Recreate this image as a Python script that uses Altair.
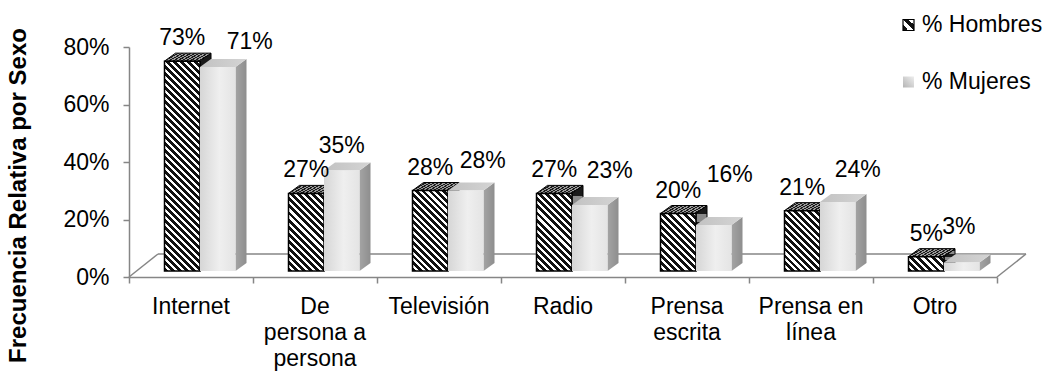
import textwrap

import altair as alt
import pandas as pd

# ---- data -------------------------------------------------------------
categories = ["Internet", "De persona a persona", "Televisión", "Radio",
              "Prensa escrita", "Prensa en línea", "Otro"]
hombres = [0.73, 0.27, 0.28, 0.27, 0.20, 0.21, 0.05]
mujeres = [0.71, 0.35, 0.28, 0.23, 0.16, 0.24, 0.03]
series = ["% Hombres", "% Mujeres"]
y_ticks = [0.0, 0.2, 0.4, 0.6, 0.8]
y_title = "Frecuencia Relativa por Sexo"

# label placement for the value labels (pixels)
hombres_label_lift = 16
mujeres_label_dx = [32, 0, 17, 20, 16, 20, -3]
mujeres_label_lift = [18, 17, 23, 27, 43, 25, 28]

# ---- layout -----------------------------------------------------------
FONT = "Liberation Sans"
FS = 23
PLOT_W, PLOT_H = 868, 230
Y_MAX = 0.8
N = len(categories)
CAT_PX = PLOT_W / N
Y_PX = PLOT_H / Y_MAX

BAR_PX = 35.5          # column width
SHIFT = (9, 6)         # column front plane, set back into the floor
DEPTH = (11, 8)        # column depth
FLOOR = (29, 23)       # floor depth
AXIS_GRAY = "#868686"


def ux(p):
    return p / CAT_PX


def uy(p):
    return p / Y_PX


xs = alt.Scale(domain=[0, N], nice=False, zero=False)
ys = alt.Scale(domain=[0, Y_MAX], nice=False, zero=True)

x_axis = alt.Axis(values=list(range(N + 1)), labels=False, title=None,
                  grid=False, tickSize=6, tickColor=AXIS_GRAY, tickWidth=1.5,
                  domainColor=AXIS_GRAY, domainWidth=1.5)
y_axis = alt.Axis(values=y_ticks, format=".0%", grid=False, tickSize=6,
                  tickColor=AXIS_GRAY, tickWidth=1.5, domainColor=AXIS_GRAY,
                  domainWidth=1.5, labelFont=FONT, labelFontSize=FS,
                  labelColor="#000", labelPadding=14, title=y_title,
                  titleFont=FONT, titleFontSize=24, titleFontWeight="bold",
                  titleColor="#000", titleAngle=270, titleX=-111, titleY=148,
                  titleAlign="center", titleBaseline="middle")


def X(field):
    return alt.X(field, type="quantitative", scale=xs, axis=x_axis)


def Y(field):
    return alt.Y(field, type="quantitative", scale=ys, axis=y_axis)


def stripes(n, c1, c2, x1, y1, x2, y2, frac=0.5):
    stops = []
    for i in range(n):
        a, b, c = i / n, (i + frac) / n, (i + 1) / n
        stops += [{"offset": round(a, 5), "color": c1},
                  {"offset": round(b, 5), "color": c1},
                  {"offset": round(b, 5), "color": c2},
                  {"offset": round(c, 5), "color": c2}]
    return {"gradient": "linear", "x1": x1, "y1": y1, "x2": x2, "y2": y2,
            "stops": stops}


def diag_hatch(w, h, pitch=7.0):
    # "\" stripes at 45 degrees inside a w x h box
    k = (w + h) / (w * w + h * h)
    n = max(1, round((w + h) / pitch))
    return stripes(n, "#111111", "#ffffff", 0, 1, round(k * w, 5),
                   round(1 - k * h, 5), frac=0.55)


# ---- geometry tables ----------------------------------------------------
rows = []
for k, cat in enumerate(categories):
    for s, vals in enumerate([hombres, mujeres]):
        v = vals[k]
        x0 = ux(k * CAT_PX + (CAT_PX - 2 * BAR_PX) / 2 + s * BAR_PX + SHIFT[0])
        x1 = x0 + ux(BAR_PX)
        yb = uy(SHIFT[1])
        rows.append(dict(cat=cat, k=k, s=s, serie=series[s], v=v,
                         x0=x0, x1=x1, yb=yb, yt=yb + v))
bars = pd.DataFrame(rows)

dx, dy = ux(DEPTH[0]), uy(DEPTH[1])
top_pts, side_pts = [], []
for r in bars.itertuples():
    pid = f"{r.s}-{r.k}"
    top_pts += [dict(id=pid, s=r.s, x=r.x0, y=r.yt, y2=r.yt),
                dict(id=pid, s=r.s, x=r.x0 + dx, y=r.yt + dy, y2=r.yt),
                dict(id=pid, s=r.s, x=r.x1, y=r.yt + dy, y2=r.yt),
                dict(id=pid, s=r.s, x=r.x1 + dx, y=r.yt + dy, y2=r.yt + dy)]
    side_pts += [dict(id=pid, s=r.s, x=r.x1, y=r.yt, y2=r.yb),
                 dict(id=pid, s=r.s, x=r.x1 + dx, y=r.yt + dy, y2=r.yb + dy)]
tops = pd.DataFrame(top_pts)
sides = pd.DataFrame(side_pts)

floor = pd.DataFrame([
    dict(x=ux(FLOOR[0]), x2=N + ux(FLOOR[0]), y=uy(FLOOR[1]), y2=uy(FLOOR[1])),
    dict(x=0.0, x2=ux(FLOOR[0]), y=0.0, y2=uy(FLOOR[1])),
    dict(x=float(N), x2=N + ux(FLOOR[0]), y=0.0, y2=uy(FLOOR[1])),
])

labels = []
for r in bars.itertuples():
    mid = (r.x0 + r.x1) / 2
    if r.s == 0:
        labels.append(dict(v=r.v, x=mid, y=r.yt + uy(hombres_label_lift)))
    else:
        labels.append(dict(v=r.v, x=mid + ux(mujeres_label_dx[r.k]),
                           y=r.yt + uy(mujeres_label_lift[r.k])))
value_labels = pd.DataFrame(labels)

cat_labels = pd.DataFrame({
    "label": ["\n".join(textwrap.wrap(c, 9, break_long_words=False))
              for c in categories],
    "x": [k + 0.5 for k in range(N)],
})

# ---- layers -------------------------------------------------------------
layers = [
    alt.Chart(floor).mark_rule(color=AXIS_GRAY, strokeWidth=1.5).encode(
        x=X("x"), x2="x2:Q", y=Y("y"), y2="y2:Q")
]

h_bars = bars[bars.s == 0]
m_bars = bars[bars.s == 1]

# men: hatched columns
layers.append(
    alt.Chart(sides[sides.s == 0]).mark_area(
        orient="vertical", stroke="#000", strokeWidth=1,
        fill=stripes(4, "#1a1a1a", "#8a8a8a", 0, 0, 0, 1)
    ).encode(x=X("x"), y=Y("y"), y2="y2:Q", detail="id:N")
)
layers.append(
    alt.Chart(tops[tops.s == 0]).mark_area(
        orient="vertical", stroke="#000", strokeWidth=1,
        fill=stripes(12, "#1a1a1a", "#9a9a9a", 0, 0, 1, 0.3)
    ).encode(x=X("x"), y=Y("y"), y2="y2:Q", detail="id:N")
)
for r in h_bars.itertuples():
    layers.append(
        alt.Chart(h_bars[h_bars.k == r.k]).mark_rect(
            stroke="#000", strokeWidth=1.5,
            fill=diag_hatch(BAR_PX, r.v * Y_PX)
        ).encode(x=X("x0"), x2="x1:Q", y=Y("yb"), y2="yt:Q")
    )

# women: light gray columns
layers.append(
    alt.Chart(sides[sides.s == 1]).mark_area(
        orient="vertical",
        fill={"gradient": "linear", "x1": 0, "y1": 0, "x2": 1, "y2": 0,
              "stops": [{"offset": 0, "color": "#a4a4a4"},
                        {"offset": 1, "color": "#8e8e8e"}]}
    ).encode(x=X("x"), y=Y("y"), y2="y2:Q", detail="id:N")
)
layers.append(
    alt.Chart(tops[tops.s == 1]).mark_area(
        orient="vertical",
        fill={"gradient": "linear", "x1": 0, "y1": 0, "x2": 1, "y2": 0,
              "stops": [{"offset": 0, "color": "#c2c2c2"},
                        {"offset": 1, "color": "#d4d4d4"}]}
    ).encode(x=X("x"), y=Y("y"), y2="y2:Q", detail="id:N")
)
layers.append(
    alt.Chart(m_bars).mark_rect(
        fill={"gradient": "linear", "x1": 0, "y1": 0, "x2": 1, "y2": 0,
              "stops": [{"offset": 0, "color": "#d6d6d6"},
                        {"offset": 0.55, "color": "#efefef"},
                        {"offset": 1, "color": "#e4e4e4"}]}
    ).encode(x=X("x0"), x2="x1:Q", y=Y("yb"), y2="yt:Q")
)

# value labels
layers.append(
    alt.Chart(value_labels).mark_text(
        font=FONT, fontSize=FS, color="#000", align="center",
        baseline="alphabetic"
    ).encode(x=X("x"), y=Y("y"), text=alt.Text("v:Q", format=".0%"))
)

# category labels
layers.append(
    alt.Chart(cat_labels).mark_text(
        font=FONT, fontSize=FS, color="#000", align="center",
        baseline="alphabetic", lineBreak="\n", lineHeight=26
    ).encode(x=X("x"), y=alt.value(PLOT_H + 37), text="label:N")
)

# legend
LEG_X, LEG_Y, LEG_STEP, LEG_BOX = 774, -22, 57, 11
legend_df = pd.DataFrame({"label": series,
                          "py": [LEG_Y + LEG_STEP * i for i in range(len(series))]})
layers.append(
    alt.Chart(legend_df).mark_text(
        font=FONT, fontSize=FS, color="#000", align="left", baseline="middle"
    ).encode(x=alt.value(LEG_X + LEG_BOX + 8),
             y=alt.Y("py:Q", scale=None, axis=None), text="label:N")
)
layers.append(
    alt.Chart(legend_df.iloc[[0]]).mark_rect(
        stroke="#000", strokeWidth=1.2,
        fill=stripes(2, "#111111", "#ffffff", 0, 1, 1, 0)
    ).encode(x=alt.value(LEG_X), x2=alt.value(LEG_X + LEG_BOX),
             y=alt.value(LEG_Y - LEG_BOX / 2), y2=alt.value(LEG_Y + LEG_BOX / 2))
)
layers.append(
    alt.Chart(legend_df.iloc[[1]]).mark_rect(
        fill={"gradient": "linear", "x1": 0, "y1": 1, "x2": 1, "y2": 0,
              "stops": [{"offset": 0, "color": "#b4b4b4"},
                        {"offset": 1, "color": "#eeeeee"}]}
    ).encode(x=alt.value(LEG_X), x2=alt.value(LEG_X + LEG_BOX),
             y=alt.value(LEG_Y + LEG_STEP - LEG_BOX / 2),
             y2=alt.value(LEG_Y + LEG_STEP + LEG_BOX / 2))
)

chart = alt.layer(*layers).properties(
    width=PLOT_W,
    height=PLOT_H,
    padding={"left": 129, "top": 47, "right": 1047 - 129 - PLOT_W,
             "bottom": 371 - 47 - PLOT_H},
    autosize=alt.AutoSizeParams(type="none"),
    background="white",
).configure_view(strokeWidth=0)

chart.save("out.html", embed_options={"renderer": "svg", "actions": False})
